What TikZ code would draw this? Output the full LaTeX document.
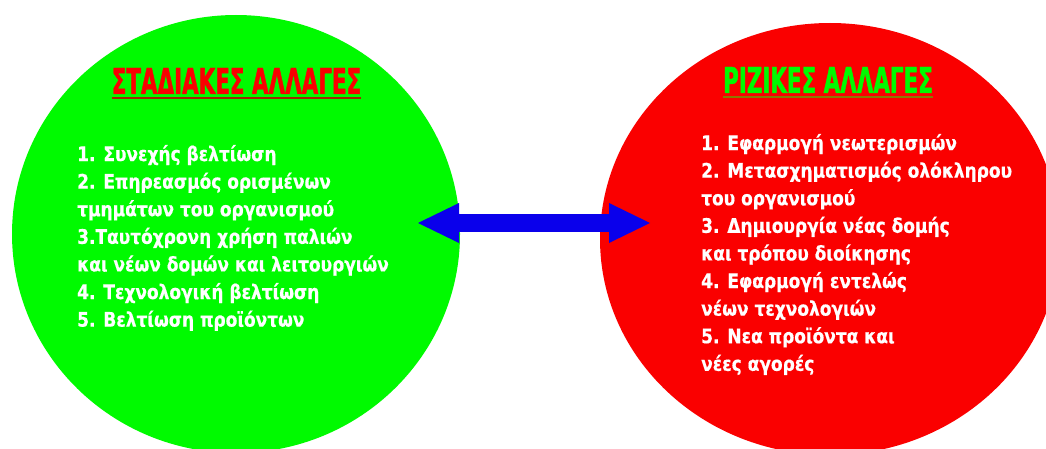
\documentclass[tikz,border=0pt]{standalone}
\usepackage{fontspec}
\usetikzlibrary{shapes.geometric,arrows.meta}
\newfontfamily\bodyfont[FakeStretch=0.85,FakeBold=0.6]{DejaVu Sans}
\newfontfamily\ttlfont[FakeStretch=0.6,FakeBold=1.2]{DejaVu Sans}
\definecolor{cgreen}{RGB}{0,250,0}
\definecolor{cred}{RGB}{250,0,0}
\definecolor{cblue}{RGB}{10,0,235}
\definecolor{ulineL}{RGB}{160,40,0}
\definecolor{ulineR}{RGB}{140,120,0}
\tikzset{
  blob/.style={ellipse, inner sep=0pt, draw=none},
  ttl/.style={inner sep=0pt, anchor=base, font=\ttlfont\bfseries\fontsize{35.7}{40}\selectfont},
  body/.style={inner sep=0pt, anchor=base west, align=left, text=white,
    font=\bodyfont\bfseries\fontsize{20}{27.6}\selectfont},
  dbl/.style={draw=cblue, line width=18.5pt,
    {Triangle[length=41pt,width=40pt,line width=0pt]}-{Triangle[length=41pt,width=40pt,line width=0pt]}}
}
\begin{document}
\begin{tikzpicture}[x=1pt,y=-1pt]
\fill[white] (0,0) rectangle (1046,449);
\useasboundingbox (0,0) rectangle (1046,449);
\clip (0,0) rectangle (1046,449);
\node[blob, fill=cgreen, minimum width=448pt, minimum height=438pt] (G) at (236,234) {};
\node[blob, fill=cred, minimum width=460pt, minimum height=432pt] (R) at (830,239) {};
\node[ttl, text=cred] (tL) at (236.5,94) {ΣΤΑΔΙΑΚΕΣ ΑΛΛΑΓΕΣ};
\draw[ulineL, line width=1.6pt] ([yshift=-4pt]tL.base west) -- ([yshift=-4pt]tL.base east);
\node[ttl, text=cgreen] (tR) at (828,93) {ΡΙΖΙΚΕΣ ΑΛΛΑΓΕΣ};
\draw[ulineR, line width=1.6pt] ([yshift=-4pt]tR.base west) -- ([yshift=-4pt]tR.base east);
% anchor base = baseline of the last line
\node[body] (bL) at (77,326.6) {1. Συνεχής βελτίωση\\2. Επηρεασμός ορισμένων\\τμημάτων του οργανισμού\\3.Ταυτόχρονη χρήση παλιών\\και νέων δομών και λειτουργιών\\4. Τεχνολογική βελτίωση\\5. Βελτίωση προϊόντων};
\node[body] (bR) at (701,370.8) {1. Εφαρμογή νεωτερισμών\\2. Μετασχηματισμός ολόκληρου\\του οργανισμού\\3. Δημιουργία νέας δομής\\και τρόπου διοίκησης\\4. Εφαρμογή εντελώς\\νέων τεχνολογιών\\5. Νεα προϊόντα και\\νέες αγορές};
\coordinate (aL) at (418,223);
\coordinate (aR) at (650,223);
\draw[dbl] (aL) -- (aR);
\end{tikzpicture}
\end{document}
